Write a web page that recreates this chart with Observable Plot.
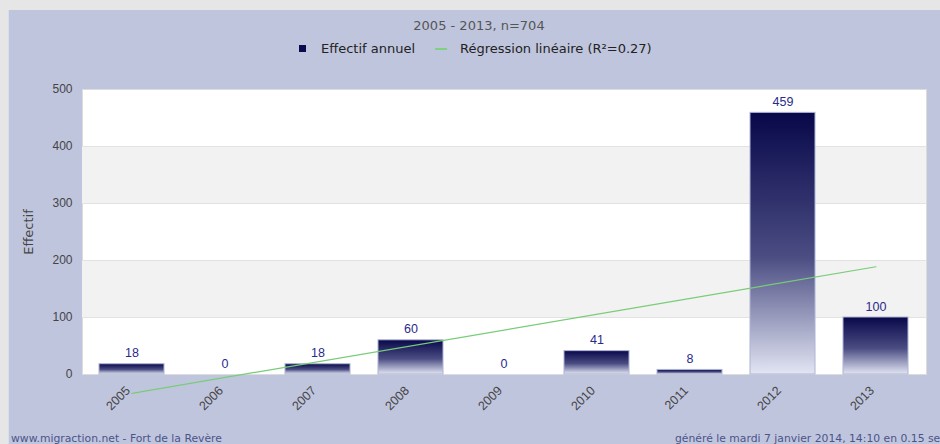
<!DOCTYPE html>
<html><head><meta charset="utf-8">
<script src="https://cdn.jsdelivr.net/npm/d3@7"></script>
<script src="https://cdn.jsdelivr.net/npm/@observablehq/plot@0.6"></script>
<style>
body{margin:0;background:#e6e6e6;width:940px;height:444px;overflow:hidden;font-family:"Liberation Sans",Arial,sans-serif;}
#panel{position:absolute;left:8px;top:10px;width:932px;height:434px;background:#c0c5de;overflow:hidden;box-shadow:inset 1px 0 0 #d8ddf0;}
#title{position:absolute;left:0;width:942px;top:8px;text-align:center;font-size:13px;color:#555;font-family:"DejaVu Sans",sans-serif;}
.lg{position:absolute;font-size:13px;color:#222;white-space:nowrap;font-family:"DejaVu Sans",sans-serif;top:31px;}
.sq{position:absolute;left:291px;top:35px;width:7px;height:7px;background:#0a0a4e;}
.ln{position:absolute;left:427px;top:38px;width:12px;height:2px;background:#7fd07f;}
#chart{position:absolute;left:0;top:60px;}
.foot{position:absolute;top:422px;font-size:10.8px;color:#4a5488;white-space:nowrap;font-family:"DejaVu Sans",sans-serif;}
</style></head>
<body>
<div id="panel">
  <div id="title">2005 - 2013, n=704</div>
  <div class="sq"></div><div class="lg" style="left:313px">Effectif annuel</div>
  <div class="ln"></div><div class="lg" style="left:452px">Régression linéaire (R²=0.27)</div>
  <div id="chart"></div>
  <div class="foot" style="left:3px">www.migraction.net - Fort de la Revère</div>
  <div class="foot" style="left:667px">généré le mardi 7 janvier 2014, 14:10 en 0.15 sec.</div>
</div>
<script>
const years = ["2005","2006","2007","2008","2009","2010","2011","2012","2013"];
const counts = [18, 0, 18, 60, 0, 41, 8, 459, 100];
const yTicks = [0, 100, 200, 300, 400, 500];
// regression line endpoints
const regYears = ["2005", "2013"];
const regValues = [-33, 189];

const data = years.map((y, i) => ({year: y, value: counts[i]}));
const reg = regYears.map((y, i) => ({year: y, value: regValues[i]}));
const bands = yTicks.slice(0, -1).map((t, i) => ({y1: t, y2: yTicks[i + 1], odd: i % 2 === 1}))
  .filter(d => d.odd);

const chart = Plot.plot({
  width: 932,
  height: 362,
  marginTop: 19,
  marginBottom: 58,
  marginLeft: 74,
  marginRight: 14,
  style: {fontFamily: '"Liberation Sans", Arial, sans-serif', fontSize: "12px", color: "#444", background: "transparent", overflow: "visible"},
  x: {domain: years, paddingInner: 0.3, paddingOuter: 0.15, label: null},
  y: {domain: [0, 500], ticks: yTicks, label: null},
  marks: [
    Plot.frame({fill: "white", stroke: "#dcdcdc"}),
    Plot.rect(bands, {y1: "y1", y2: "y2", fill: "#f2f2f2"}),
    Plot.ruleY(yTicks.slice(1, -1), {stroke: "#e2e2e2"}),
    Plot.axisY({ticks: yTicks, tickSize: 0, tickPadding: 10, fill: "#444", fontSize: 12, label: null}),
    Plot.axisX({tickSize: 0, tickRotate: -45, tickPadding: 8, dx: -4, dy: 6, fill: "#444", fontSize: 12.5, label: null}),
    Plot.text(["Effectif"], {frameAnchor: "left", textAnchor: "middle", dx: -54, rotate: -90, fill: "#444", fontSize: 13, fontFamily: "DejaVu Sans"}),
    Plot.barY(data, {x: "year", y: "value", fill: "url(#barGrad)", stroke: "#aeb4d6", strokeWidth: 1}),
    Plot.line(reg, {x: "year", y: "value", stroke: "#78cc78", strokeWidth: 1.2}),
    Plot.text(data, {x: "year", y: "value", text: d => String(d.value), dy: -11, fill: "#2a2a8c", fontSize: 12.5})
  ]
});

const ns = "http://www.w3.org/2000/svg";
const defs = document.createElementNS(ns, "defs");
defs.innerHTML = '<linearGradient id="barGrad" x1="0" y1="0" x2="0" y2="1">' +
  '<stop offset="0" stop-color="#08084a"/><stop offset="0.55" stop-color="#4a4c82"/><stop offset="1" stop-color="#e2e5f3"/></linearGradient>';
chart.insertBefore(defs, chart.firstChild);
document.getElementById("chart").appendChild(chart);
</script>
</body></html>
